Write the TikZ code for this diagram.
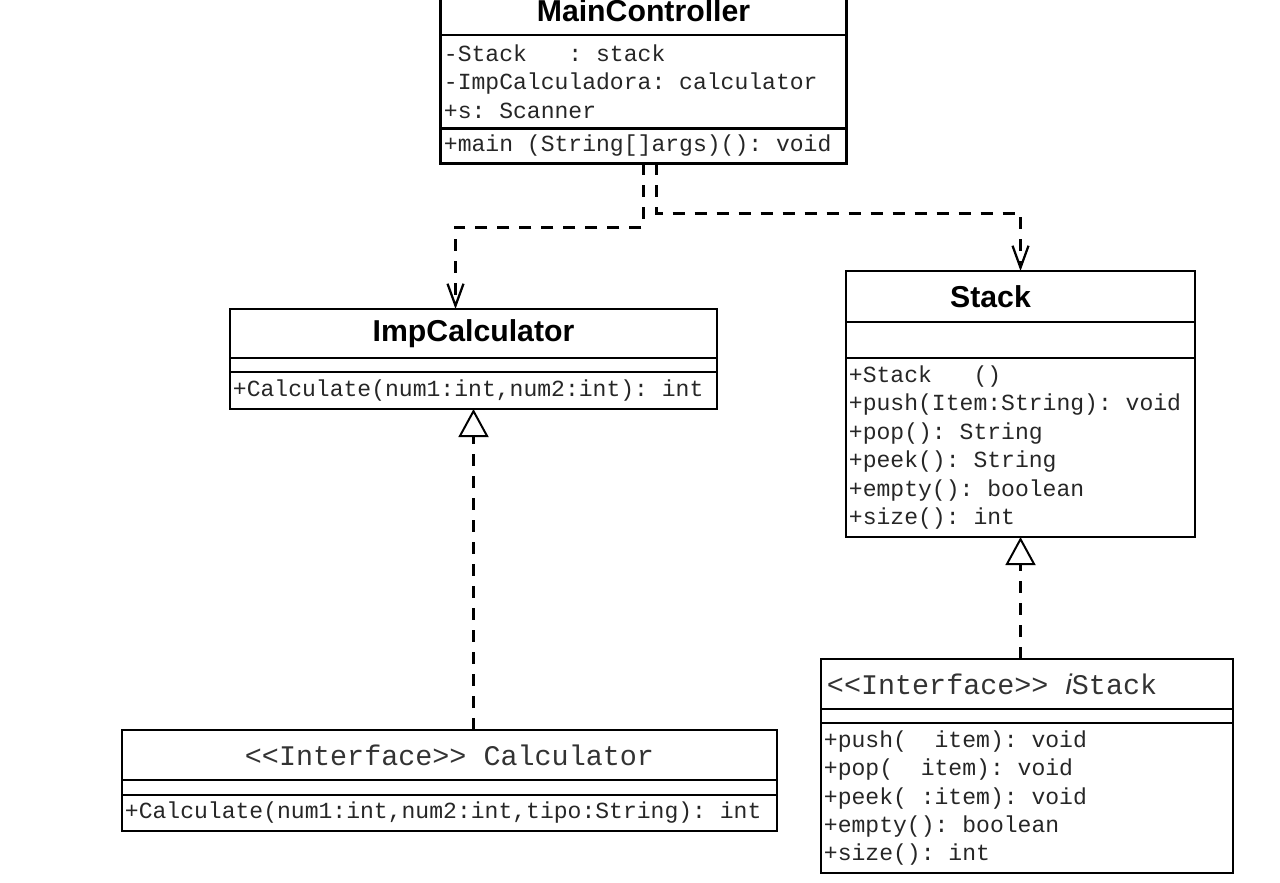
\documentclass[tikz,border=0pt]{standalone}
\usepackage{fontspec}
\setsansfont{Liberation Sans}
\setmonofont{Liberation Mono}
\usetikzlibrary{positioning,arrows.meta,calc}
\newcommand{\gap}[1]{\hphantom{#1}}
% full-width spaces in the monospaced text (align=left makes them narrow)
\newcommand{\monospaces}{\spaceskip=0.6em\relax\xspaceskip=0.6em\relax}
\tikzset{
    x=0.025cm,
    y=-0.025cm,
    box/.style = {
        draw,
        shape=rectangle,
        outer sep=0pt,
        inner xsep=0.075cm,
        inner ysep=0pt,
        line width=1.4pt
    },
    classname/.style = {
        box,
        font=\sffamily\bfseries\fontsize{21.5pt}{24pt}\selectfont,
        minimum height=1.25cm
    },
    iface/.style = {
        box,
        font=\ttfamily\fontsize{20.2pt}{22pt}\selectfont,
        execute at begin node=\monospaces,
        text=black!80,
        minimum height=1.25cm
    },
    blank/.style = {
        box,
        minimum height=#1
    },
    members/.style = {
        box,
        font=\ttfamily\fontsize{16.4pt}{20.2pt}\selectfont,
        execute at begin node=\monospaces,
        text=black!85,
        align=left
    },
    dep/.style = {
        line width=2.1pt,
        dash pattern=on 0.3cm off 0.25cm,
        -{Straight Barb[length=0.55cm,width=0.4cm,line width=1.6pt]}
    },
    realize/.style = {
        line width=2.1pt,
        dash pattern=on 0.3cm off 0.25cm,
        -{Triangle[open,length=0.7cm,width=0.75cm,line width=1.4pt]}
    },
}

\begin{document}
\begin{tikzpicture}
    \useasboundingbox (0,0) rectangle (1280,882);

    % MainController
    \node[classname, line width=2.1pt, minimum width=10.125cm, minimum height=1.2cm] (mainTitle) at (643.5,11) {MainController};
    \node[members, line width=2.1pt, text width=9.975cm, minimum height=2.325cm, below=0pt of mainTitle] (mainAttr)
        {-Stack\gap{xxx}: stack\\-ImpCalculadora: calculator\\+s: Scanner};
    \node[members, line width=2.1pt, text width=9.975cm, minimum height=0.875cm, below=0pt of mainAttr] (mainOps)
        {+main (String[]args)(): void};

    % ImpCalculator
    \node[classname, minimum width=12.175cm, minimum height=1.225cm] (impTitle) at (473.5,333.5) {ImpCalculator};
    \node[blank=0.35cm, minimum width=12.175cm, below=0pt of impTitle] (impAttr) {};
    \node[members, text width=12.025cm, minimum height=0.925cm, below=0pt of impAttr] (impOps)
        {+Calculate(num1:int,num2:int): int};

    % Stack
    \node[classname, minimum width=8.725cm, minimum height=1.275cm] (stackTitle) at (1020.5,296.5) {Stack\hspace*{42.7pt}};
    \node[blank=0.9cm, minimum width=8.725cm, below=0pt of stackTitle] (stackAttr) {};
    \node[members, text width=8.575cm, minimum height=4.475cm, below=0pt of stackAttr] (stackOps)
        {+Stack\gap{xxx}()\\+push(Item:String): void\\+pop(): String\\+peek(): String\\+empty(): boolean\\+size(): int};

    % iStack
    \node[iface, inner xsep=0.15cm, text width=10.0cm, align=left] (istackTitle) at (1027,684)
        {{<}{<}Interface{>}{>} {\sffamily\itshape i}Stack};
    \node[blank=0.35cm, minimum width=10.3cm, below=0pt of istackTitle] (istackAttr) {};
    \node[members, text width=10.15cm, minimum height=3.75cm, below=0pt of istackAttr] (istackOps)
        {+push(\gap{xx}item): void\\+pop(\gap{xx}item): void\\+peek(\gap{x}:item): void\\+empty(): boolean\\+size(): int};

    % Calculator
    \node[iface, minimum width=16.375cm] (calcTitle) at (449.5,755) {{<}{<}Interface{>}{>} Calculator};
    \node[blank=0.375cm, minimum width=16.375cm, below=0pt of calcTitle] (calcAttr) {};
    \node[members, text width=16.225cm, minimum height=0.9cm, below=0pt of calcAttr] (calcOps)
        {+Calculate(num1:int,num2:int,tipo:String): int};

    % dependencies
    \draw[dep] (mainOps.south) -- ++(0,64) -| ([xshift=-0.45cm]impTitle.north);
    \draw[dep] ([xshift=0.325cm]mainOps.south) -- ++(0,50) -| (stackTitle.north);

    % realizations
    \draw[realize] (impOps.south |- calcTitle.north) -- (impOps.south);
    \draw[realize] (stackOps.south |- istackTitle.north) -- (stackOps.south);
\end{tikzpicture}
\end{document}
